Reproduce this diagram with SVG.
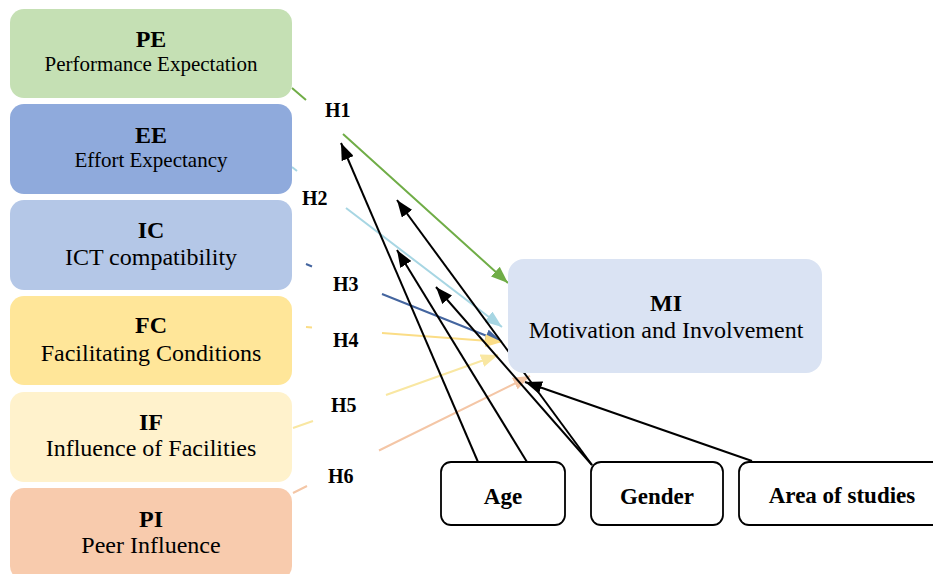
<svg xmlns="http://www.w3.org/2000/svg" width="933" height="574" viewBox="0 0 933 574">
<style>
text{font-family:"Liberation Serif","Times New Roman",serif;fill:#000;text-anchor:middle}
.b{font-weight:bold;font-size:24px}
.s{font-size:24px}
.s2{font-size:21px}
.h{font-weight:bold;font-size:20px;text-anchor:start}
.c{fill:none;stroke-width:2}
.k{fill:none;stroke:#000;stroke-width:2}
.box{stroke:#000;stroke-width:1.8;fill:#fff}
</style>
<defs>
<marker id="mk" markerUnits="userSpaceOnUse" markerWidth="17" markerHeight="13" refX="17" refY="6.5" orient="auto"><path d="M0,0 L17,6.5 L0,13 Z" fill="#000"/></marker>
<marker id="mg" markerUnits="userSpaceOnUse" markerWidth="17" markerHeight="13" refX="17" refY="6.5" orient="auto"><path d="M0,0 L17,6.5 L0,13 Z" fill="#70AD47"/></marker>
<marker id="mlb" markerUnits="userSpaceOnUse" markerWidth="17" markerHeight="13" refX="17" refY="6.5" orient="auto"><path d="M0,0 L17,6.5 L0,13 Z" fill="#A7D6E3"/></marker>
<marker id="mdb" markerUnits="userSpaceOnUse" markerWidth="17" markerHeight="13" refX="17" refY="6.5" orient="auto"><path d="M0,0 L17,6.5 L0,13 Z" fill="#44659F"/></marker>
<marker id="my" markerUnits="userSpaceOnUse" markerWidth="17" markerHeight="13" refX="17" refY="6.5" orient="auto"><path d="M0,0 L17,6.5 L0,13 Z" fill="#FBDD86"/></marker>
<marker id="mly" markerUnits="userSpaceOnUse" markerWidth="17" markerHeight="13" refX="17" refY="6.5" orient="auto"><path d="M0,0 L17,6.5 L0,13 Z" fill="#F9E7A2"/></marker>
<marker id="mp" markerUnits="userSpaceOnUse" markerWidth="17" markerHeight="13" refX="17" refY="6.5" orient="auto"><path d="M0,0 L17,6.5 L0,13 Z" fill="#F4C6A6"/></marker>
</defs>

<g id="connectors">
<path class="c" stroke="#70AD47" marker-end="url(#mg)" d="M292,88 L306,100 M343,134 L508,283"/>
<path class="c" stroke="#A7D6E3" marker-end="url(#mlb)" d="M292,167 L297,171 M346,208 L502,327"/>
<path class="c" stroke="#44659F" marker-end="url(#mdb)" d="M306,264 L312,266.5 M382,294 L502,342"/>
<path class="c" stroke="#FBDD86" marker-end="url(#my)" d="M306,327 L312,327.5 M382,333 L502,342"/>
<path class="c" stroke="#F9E7A2" marker-end="url(#mly)" d="M293,428 L313,421 M386,395 L498,355"/>
<path class="c" stroke="#F4C6A6" marker-end="url(#mp)" d="M293,493 L307,486 M379,450.5 L530,376"/>
<line class="k" x1="478" y1="462" x2="341" y2="143" marker-end="url(#mk)"/>
<line class="k" x1="527" y1="462" x2="397" y2="250" marker-end="url(#mk)"/>
<line class="k" x1="592" y1="465" x2="397" y2="200" marker-end="url(#mk)"/>
<line class="k" x1="592" y1="465" x2="436" y2="287" marker-end="url(#mk)"/>
<line class="k" x1="752" y1="461" x2="525" y2="382" marker-end="url(#mk)"/>
<text class="h" x="325" y="117">H1</text>
<text class="h" x="302" y="205">H2</text>
<text class="h" x="333" y="291">H3</text>
<text class="h" x="333" y="347">H4</text>
<text class="h" x="331" y="412">H5</text>
<text class="h" x="328" y="483">H6</text>
</g>

<g id="PE">
<rect x="10" y="9" width="282" height="89" rx="14" fill="#C5E0B4"/>
<text class="b" x="151" y="47">PE</text>
<text class="s2" x="151" y="71">Performance Expectation</text>
</g>
<g id="EE">
<rect x="10" y="104" width="282" height="90" rx="14" fill="#8FAADC"/>
<text class="b" x="151" y="143">EE</text>
<text class="s2" x="151" y="167">Effort Expectancy</text>
</g>
<g id="IC">
<rect x="10" y="200" width="282" height="90" rx="14" fill="#B4C7E7"/>
<text class="b" x="151" y="238">IC</text>
<text class="s" x="151" y="265">ICT compatibility</text>
</g>
<g id="FC">
<rect x="10" y="296" width="282" height="89" rx="14" fill="#FFE699"/>
<text class="b" x="151" y="333">FC</text>
<text class="s" x="151" y="361">Facilitating Conditions</text>
</g>
<g id="IF">
<rect x="10" y="392" width="282" height="90" rx="14" fill="#FFF2CC"/>
<text class="b" x="151" y="430">IF</text>
<text class="s" x="151" y="456">Influence of Facilities</text>
</g>
<g id="PI">
<rect x="10" y="488" width="282" height="92" rx="14" fill="#F8CBAD"/>
<text class="b" x="151" y="527">PI</text>
<text class="s" x="151" y="553">Peer Influence</text>
</g>
<g id="MI">
<rect x="508" y="259" width="314" height="114" rx="16" fill="#DAE3F3"/>
<text class="b" x="666" y="311">MI</text>
<text class="s" x="666" y="338">Motivation and Involvement</text>
</g>
<g id="Age">
<rect class="box" x="441" y="462" width="124" height="63" rx="10"/>
<text class="b" x="503" y="504" style="font-size:23px">Age</text>
</g>
<g id="Gender">
<rect class="box" x="591" y="462" width="132" height="63" rx="10"/>
<text class="b" x="657" y="504" style="font-size:23px">Gender</text>
</g>
<g id="Area">
<rect class="box" x="739" y="462" width="210" height="63" rx="10"/>
<text class="b" x="842" y="503" style="font-size:23px">Area of studies</text>
</g>
</svg>
